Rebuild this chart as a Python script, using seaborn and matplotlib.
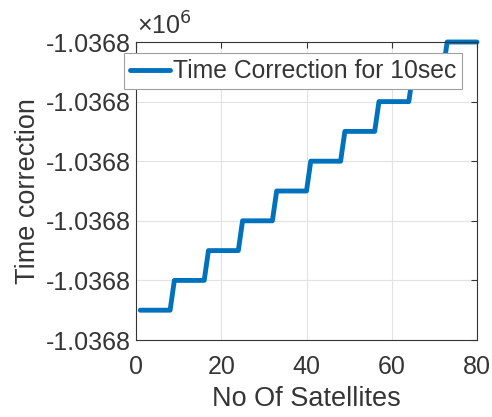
import matplotlib
matplotlib.use("Agg")
import matplotlib.pyplot as plt
import seaborn as sns
import pandas as pd
from matplotlib.ticker import FixedLocator, FixedFormatter

satellites = list(range(1, 81))
time_correction = [
    -1036799.995, -1036799.995, -1036799.995, -1036799.995, -1036799.995, -1036799.995, -1036799.995, -1036799.995,
    -1036799.990, -1036799.990, -1036799.990, -1036799.990, -1036799.990, -1036799.990, -1036799.990, -1036799.990,
    -1036799.985, -1036799.985, -1036799.985, -1036799.985, -1036799.985, -1036799.985, -1036799.985, -1036799.985,
    -1036799.980, -1036799.980, -1036799.980, -1036799.980, -1036799.980, -1036799.980, -1036799.980, -1036799.980,
    -1036799.975, -1036799.975, -1036799.975, -1036799.975, -1036799.975, -1036799.975, -1036799.975, -1036799.975,
    -1036799.970, -1036799.970, -1036799.970, -1036799.970, -1036799.970, -1036799.970, -1036799.970, -1036799.970,
    -1036799.965, -1036799.965, -1036799.965, -1036799.965, -1036799.965, -1036799.965, -1036799.965, -1036799.965,
    -1036799.960, -1036799.960, -1036799.960, -1036799.960, -1036799.960, -1036799.960, -1036799.960, -1036799.960,
    -1036799.955, -1036799.955, -1036799.955, -1036799.955, -1036799.955, -1036799.955, -1036799.955, -1036799.955,
    -1036799.950, -1036799.950, -1036799.950, -1036799.950, -1036799.950, -1036799.950, -1036799.950, -1036799.950,
]
x_ticks = [0, 20, 40, 60, 80]
y_ticks = [-1036800.00, -1036799.99, -1036799.98, -1036799.97, -1036799.96, -1036799.95]
y_tick_labels = ["-1.0368", "-1.0368", "-1.0368", "-1.0368", "-1.0368", "-1.0368"]
series_name = "Time Correction for 10sec"

sns.set_style("white")
plt.rcParams["font.family"] = ["Liberation Sans", "DejaVu Sans"]

df = pd.DataFrame({"No Of Satellites": satellites, "Time correction": time_correction})

fig = plt.figure(figsize=(4.92, 4.17), dpi=100)
ax = fig.add_axes([136/492, 1 - 340/417, (477-136)/492, (340-42)/417])

sns.lineplot(data=df, x="No Of Satellites", y="Time correction", ax=ax,
             color="#0072BD", linewidth=3.5, label=series_name, clip_on=False)

ax.set_xlim(0, 80)
ax.set_ylim(y_ticks[0], y_ticks[-1])
ax.xaxis.set_major_locator(FixedLocator(x_ticks))
ax.yaxis.set_major_locator(FixedLocator(y_ticks))
ax.yaxis.set_major_formatter(FixedFormatter(y_tick_labels))

edge = "#353535"
for s in ax.spines.values():
    s.set_color(edge)
    s.set_linewidth(0.8)
ax.grid(True, color="#e2e2e2", linewidth=0.8)
ax.tick_params(direction="in", length=4, width=0.8, color=edge, labelsize=18,
               labelcolor=edge, top=True, right=True)
ax.tick_params(axis="x", pad=11)
ax.tick_params(axis="y", pad=4)
ax.set_xlabel("No Of Satellites", fontsize=19.5, color=edge, labelpad=5)
ax.set_ylabel("Time correction", fontsize=19.5, color=edge, labelpad=3)

fig.text(137/492, 1 - 35/417, "×10$^{6}$", fontsize=18, color=edge,
         va="baseline", ha="left")

leg = ax.legend(loc="upper left", bbox_to_anchor=(124/492, 1 - 53/417),
                bbox_transform=fig.transFigure, fontsize=17.8, frameon=True,
                fancybox=False, framealpha=1, edgecolor="#a0a0a0",
                handlelength=1.6, handletextpad=0.12, borderpad=0.25,
                borderaxespad=0)
leg.get_frame().set_linewidth(0.8)
for t in leg.get_texts():
    t.set_color(edge)

fig.savefig("out.png", dpi=100)
